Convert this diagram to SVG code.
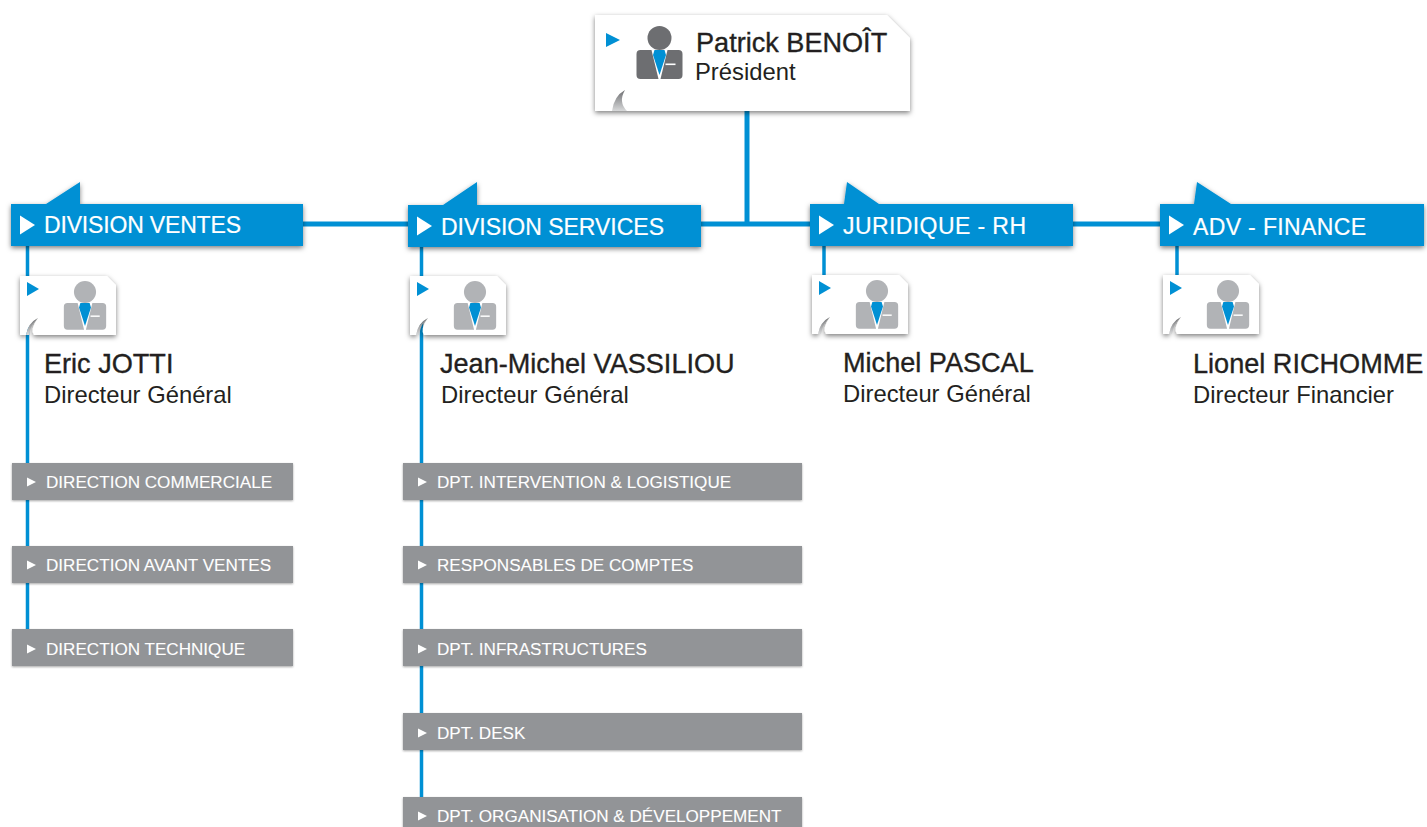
<svg xmlns="http://www.w3.org/2000/svg" width="1427" height="827" viewBox="0 0 1427 827">
<style>
text{font-family:"Liberation Sans",Arial,sans-serif}
.blue{fill:#0090d4}
.card{fill:#fff;filter:url(#sh)}
.banner{fill:#0090d4;filter:url(#sh)}
.grey{fill:#929497;filter:url(#shs)}
.name{font-size:27.1px;fill:#231f20;stroke:#231f20;stroke-width:.35}
.role{font-size:23.8px;fill:#231f20}
.bt{font-size:23px;fill:#fff;stroke:#fff;stroke-width:.2}
.gt{font-size:17.1px;fill:#fff;stroke:#fff;stroke-width:.1}
.conn{stroke:#0090d4;stroke-width:3.5;fill:none}
.conn .main{stroke-width:5}
</style>
<defs>
<linearGradient id="curl" x1="0" y1="0" x2="0" y2="1"><stop offset="0" stop-color="#6d6e71"/><stop offset="1" stop-color="#d8d9da"/></linearGradient>
<filter id="sh" x="-10%" y="-20%" width="120%" height="145%"><feDropShadow dx="0" dy="2" stdDeviation="2.5" flood-color="#000" flood-opacity=".5"/></filter>
<filter id="shs" x="-5%" y="-20%" width="110%" height="140%"><feDropShadow dx="0" dy="1" stdDeviation="1.2" flood-color="#000" flood-opacity=".35"/></filter>
<path id="body" d="M-8-4H-19Q-23-4-23 0V21Q-23 25-19 25H-1ZM8-4H19Q23-4 23 0V21Q23 25 19 25H1Z"/>
<path id="tie" d="M-5-4H5L6.500 1 0 21-6.500 1Z" fill="#0090d4"/>
<g id="iconL" fill="#6d6e71"><circle cy="-16" r="12"/><use href="#body"/><use href="#tie"/><rect x="6" y="9.500" width="10" height="1.600" fill="#fff"/></g>
<g id="iconS" fill="#b1b3b6"><circle cy="-16" r="12"/><use href="#body"/><use href="#tie"/><rect x="6" y="9.500" width="10" height="1.600" fill="#fff"/></g>
<g id="small">
<path class="card" d="M0 0H87L96 9V59H14Q10 53 18 42Q8 47 6 59H0Z"/>
<path d="M6 59Q8 47 18 42Q11 47 9 59Z" fill="url(#curl)"/>
<path class="blue" d="M7 6 19 13 7 20Z"/>
<use href="#iconS" transform="translate(65 30.700) scale(.92)"/>
</g>
<path id="gtri" d="M0-4.500 9 0 0 4.500Z" fill="#fff"/>
<path id="btri" d="M0-9.500 15 0 0 9.500Z" fill="#fff"/>
</defs>

<g id="connectors" class="conn">
<path class="main" d="M303 224H1160"/>
<path class="main" d="M747 111V224"/>
<path d="M27.500 246V650"/>
<path d="M421.500 247V800"/>
<path d="M824 246V276"/>
<path d="M1177 246V276"/>
</g>

<g id="president">
<path class="card" d="M595 15H887L910 38V111H595Z"/>
<path d="M612 111Q614 96 625 90Q618 102 627 111Z" fill="url(#curl)"/>
<path class="blue" d="M606 33 620 40 606 47Z"/>
<use href="#iconL" x="659.500" y="54"/>
<text class="name" x="696" y="52">Patrick BENOÎT</text>
<text class="role" x="695" y="80">Président</text>
</g>

<g id="division-ventes">
<path class="banner" d="M11 204H46L80 182V204H303V246H11Z"/>
<use href="#btri" x="20" y="225"/>
<text class="bt" x="44" y="233" textLength="197">DIVISION VENTES</text>
</g>
<g id="division-services">
<path class="banner" d="M408 205H443L477 182V205H701V247H408Z"/>
<use href="#btri" x="417" y="226"/>
<text class="bt" x="441" y="235" textLength="223">DIVISION SERVICES</text>
</g>
<g id="juridique-rh">
<path class="banner" d="M810 204H844L847 182L879 204H1073V246H810Z"/>
<use href="#btri" x="819" y="225"/>
<text class="bt" x="843" y="234" textLength="183">JURIDIQUE - RH</text>
</g>
<g id="adv-finance">
<path class="banner" d="M1160 204H1194L1197 182L1231 204H1424V246H1160Z"/>
<use href="#btri" x="1169" y="225"/>
<text class="bt" x="1193" y="235" textLength="173">ADV - FINANCE</text>
</g>

<g id="eric-jotti">
<use href="#small" x="20" y="276"/>
<text class="name" x="44" y="373">Eric JOTTI</text>
<text class="role" x="44" y="403">Directeur Général</text>
</g>
<g id="jean-michel-vassiliou">
<use href="#small" x="410" y="276"/>
<text class="name" x="440" y="373">Jean-Michel VASSILIOU</text>
<text class="role" x="441" y="403">Directeur Général</text>
</g>
<g id="michel-pascal">
<use href="#small" x="812" y="275"/>
<text class="name" x="843" y="372">Michel PASCAL</text>
<text class="role" x="843" y="402">Directeur Général</text>
</g>
<g id="lionel-richomme">
<use href="#small" x="1163" y="275"/>
<text class="name" x="1193" y="373">Lionel RICHOMME</text>
<text class="role" x="1193" y="403">Directeur Financier</text>
</g>

<g id="direction-commerciale"><rect class="grey" x="12" y="463" width="281" height="37"/><use href="#gtri" x="27" y="482"/><text class="gt" x="46" y="488">DIRECTION COMMERCIALE</text></g>
<g id="direction-avant-ventes"><rect class="grey" x="12" y="546" width="281" height="37"/><use href="#gtri" x="27" y="565"/><text class="gt" x="46" y="571">DIRECTION AVANT VENTES</text></g>
<g id="direction-technique"><rect class="grey" x="12" y="629" width="281" height="37"/><use href="#gtri" x="27" y="649"/><text class="gt" x="46" y="655">DIRECTION TECHNIQUE</text></g>

<g id="dpt-intervention"><rect class="grey" x="403" y="463" width="399" height="37"/><use href="#gtri" x="418" y="482"/><text class="gt" x="437" y="488">DPT. INTERVENTION &amp; LOGISTIQUE</text></g>
<g id="responsables-comptes"><rect class="grey" x="403" y="546" width="399" height="37"/><use href="#gtri" x="418" y="565"/><text class="gt" x="437" y="571">RESPONSABLES DE COMPTES</text></g>
<g id="dpt-infrastructures"><rect class="grey" x="403" y="629" width="399" height="37"/><use href="#gtri" x="418" y="649"/><text class="gt" x="437" y="655">DPT. INFRASTRUCTURES</text></g>
<g id="dpt-desk"><rect class="grey" x="403" y="713" width="399" height="37"/><use href="#gtri" x="418" y="733"/><text class="gt" x="437" y="739">DPT. DESK</text></g>
<g id="dpt-organisation"><rect class="grey" x="403" y="797" width="399" height="37"/><use href="#gtri" x="418" y="816"/><text class="gt" x="437" y="822">DPT. ORGANISATION &amp; DÉVELOPPEMENT</text></g>
</svg>
